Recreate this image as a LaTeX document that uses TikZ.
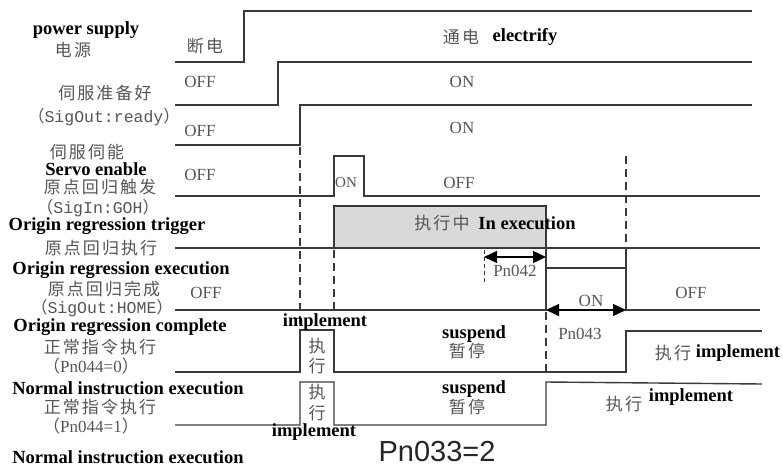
\documentclass[tikz,border=0pt]{standalone}
\usepackage{fontspec}
\setmainfont{Liberation Serif}
\newfontfamily\cjk[LetterSpace=12]{Noto Sans CJK SC}
\newfontfamily\cjkn{Noto Sans CJK SC}
\newfontfamily\monof{Liberation Mono}
\newfontfamily\sansf{Liberation Sans}
\usetikzlibrary{arrows.meta}
\definecolor{linec}{HTML}{3A3A3A}
\definecolor{txtc}{HTML}{555555}
\definecolor{boxg}{HTML}{D9D9D9}
\tikzset{
  sig/.style={line width=1.4pt, draw=linec, line join=miter},
  dline/.style={line width=1.3pt, draw=linec, dash pattern=on 8pt off 5pt},
  bt/.style={font=\bfseries\fontsize{18.5}{20}\selectfont, text=black, inner sep=0pt},
  ct/.style={font=\cjk\fontsize{17}{19}\selectfont, text=txtc, inner sep=0pt},
  cn/.style={font=\cjkn\fontsize{17}{19}\selectfont, text=txtc, inner sep=0pt},
  st/.style={font=\fontsize{17}{19}\selectfont, text=txtc, inner sep=0pt},
  mt/.style={font=\fontsize{16.5}{18}\selectfont, text=txtc, inner sep=0pt},
  dimarrow/.style={line width=1.3pt, draw=black, {Triangle[length=13pt,width=12pt]}-{Triangle[length=13pt,width=12pt]}}
}
\begin{document}
\begin{tikzpicture}[x=1pt,y=-1pt]
\useasboundingbox (0,0) rectangle (783,468);
% gray execution box
\fill[boxg] (334,206) rectangle (546,248);
% waveforms
\draw[sig] (175,62) -- (244,62) -- (244,11) -- (752,11);
\draw[sig] (175,105) -- (278,105) -- (278,62) -- (752,62);
\draw[sig] (175,145) -- (300,145) -- (300,105) -- (752,105);
\draw[sig] (175,196) -- (334,196) -- (334,156) -- (364,156) -- (364,196) -- (760,196);
\draw[sig] (175,248) -- (760,248);
\draw[sig] (334,248) -- (334,206) -- (546,206) -- (546,248);
\draw[sig] (175,310) -- (546,310) -- (546,248);
\draw[sig] (546,268) -- (626,268) -- (626,310) -- (760,310);
\draw[sig] (626,248) -- (626,268);
\draw[sig] (175,372) -- (300,372) -- (300,330) -- (334,330) -- (334,372) -- (626,372) -- (626,331) -- (762,331);
\draw[sig] (175,425) -- (300,425) -- (300,382) -- (334,382) -- (334,425) -- (546,425) -- (546,382) -- (762,384);
% dashed guides
\draw[dline] (300,147) -- (300,330);
\draw[dline] (334,250) -- (334,312);
\draw[dline] (546,312) -- (546,372);
\draw[dline] (626,156) -- (626,248);
\draw[dline, dash pattern=on 4pt off 3pt, line width=1pt] (484,250) -- (484,282);
% dimension arrows
\coordinate (a42) at (484,257);
\coordinate (b42) at (546,257);
\coordinate (a43) at (546,310);
\coordinate (b43) at (626,310);
\draw[dimarrow] (a42) -- (b42);
\draw[dimarrow] (a43) -- (b43);
% left labels
\node[bt] (ps) at (86,30) {power supply};
\node[ct] (psc) at (73,50) {电源};
\node[ct] (rdy) at (105,93) {伺服准备好};
\node[mt] (rdys) at (104,117) {{\cjkn （}{\monof SigOut:ready}{\cjkn ）}};
\node[ct] (en) at (87,152) {伺服伺能};
\node[bt] (enb) at (96,169) {Servo enable};
\node[ct] (trg) at (100,187) {原点回归触发};
\node[mt] (trgs) at (98,208) {{\cjkn （}{\monof SigIn:GOH}{\cjkn ）}};
\node[bt] (trgb) at (107,226) {Origin regression trigger};
\node[ct] (exe) at (101,248) {原点回归执行};
\node[bt] (exeb) at (121,270) {Origin regression execution};
\node[ct] (cmp) at (104,289) {原点回归完成};
\node[mt] (cmps) at (102,308) {{\cjkn （}{\monof SigOut:HOME}{\cjkn ）}};
\node[bt] (cmpb) at (120,327) {Origin regression complete};
\node[ct] (n0) at (100,347) {正常指令执行};
\node[st] (n0s) at (91,366) {{\cjkn （}Pn044=0{\cjkn ）}};
\node[bt] (n0b) at (128,388) {Normal instruction execution};
\node[ct] (n1) at (100,407) {正常指令执行};
\node[st] (n1s) at (91,426) {{\cjkn （}Pn044=1{\cjkn ）}};
\node[bt] (n1b) at (128,457) {Normal instruction execution};
% state labels
\node[ct] (dd) at (205,46) {断电};
\node[ct] (tdc) at (461,37) {通电};
\node[bt] (tde) at (525,37) {electrify};
\node[st] (off1) at (200,82) {OFF};
\node[st] (on1) at (462,82) {ON};
\node[st] (off2) at (200,131) {OFF};
\node[st] (on2) at (462,128) {ON};
\node[st] (off3) at (200,175) {OFF};
\node[st, font=\fontsize{15}{17}\selectfont] (on3) at (346,183) {ON};
\node[st] (off4) at (459,183) {OFF};
\node[ct] (inexc) at (442,223) {执行中};
\node[bt] (inexe) at (527,223) {In execution};
\node[st] (pn42) at (515,271) {Pn042};
\node[st] (off5) at (206,293) {OFF};
\node[st] (on5) at (591,301) {ON};
\node[st] (off6) at (691,293) {OFF};
\node[st] (pn43) at (580,334) {Pn043};
\node[bt] (imp1) at (325,322) {implement};
\node[cn] (z1a) at (317,346) {执};
\node[cn] (z1b) at (317,366) {行};
\node[cn] (z2a) at (317,392) {执};
\node[cn] (z2b) at (317,413) {行};
\node[bt] (imp2) at (314,432) {implement};
\node[bt] (sus1) at (474,334) {suspend};
\node[ct] (zt1) at (467,351) {暂停};
\node[bt] (sus2) at (474,389) {suspend};
\node[ct] (zt2) at (467,407) {暂停};
\node[ct] (zx1) at (673,353) {执行};
\node[bt] (zx1e) at (738,353) {implement};
\node[ct] (zx2) at (624,404) {执行};
\node[bt] (zx2e) at (691,397) {implement};
\node[font=\sansf\fontsize{29}{31}\selectfont, text=black!85, inner sep=0pt] (pn33) at (437,452) {Pn033=2};
\end{tikzpicture}
\end{document}
